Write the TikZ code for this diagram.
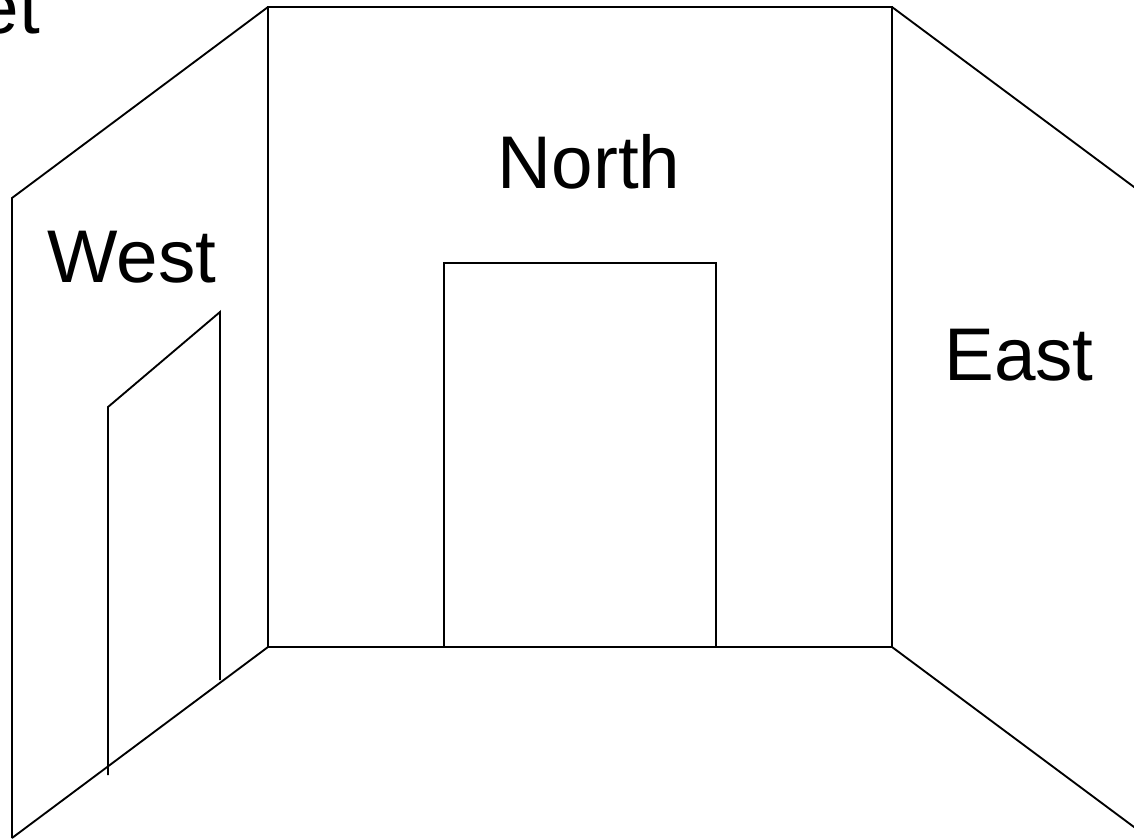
\documentclass[tikz,border=0pt]{standalone}
\usepackage{fontspec}
\setmainfont{Liberation Sans}
\tikzset{
  wall/.style={draw=black, line width=1.4pt, line join=miter},
  label/.style={inner sep=0pt, outer sep=0pt, anchor=base, font=\fontsize{56pt}{60pt}\selectfont, text=black}
}
\begin{document}
\begin{tikzpicture}[x=0.75pt,y=-0.75pt]
\useasboundingbox (0,0) rectangle (1134,839);
\clip (0,0) rectangle (1134,839);
\fill[white] (0,0) rectangle (1134,839);
\coordinate (nTL) at (268,7);
\coordinate (nTR) at (892,7);
\coordinate (nBL) at (268,647);
\coordinate (nBR) at (892,647);
\coordinate (wT) at (12,198);
\coordinate (wB) at (12,838);
\coordinate (eT) at (1136,188.5);
\coordinate (eB) at (1136,828.5);
\coordinate (dTL) at (444,263);
\coordinate (dTR) at (716,263);
\coordinate (dBL) at (444,647);
\coordinate (dBR) at (716,647);
\coordinate (wdA) at (108,775);
\coordinate (wdB) at (108,407);
\coordinate (wdC) at (220,312);
\coordinate (wdD) at (220,680);
\draw[wall] (nTL) -- (nTR) -- (nBR) -- (nBL) -- cycle;
\draw[wall] (wB) -- (wT) -- (nTL);
\draw[wall] (wB) -- (nBL);
\draw[wall] (nTR) -- (eT);
\draw[wall] (nBR) -- (eB);
\draw[wall] (dBL) -- (dTL) -- (dTR) -- (dBR);
\draw[wall] (wdA) -- (wdB) -- (wdC) -- (wdD);
\node[label] (north) at (589,188) {North};
\node[label] (west) at (132,282) {West};
\node[label] (east) at (1019,380) {East};
\node[label, anchor=base east] (partial) at (40,33) {et};
\end{tikzpicture}
\end{document}
